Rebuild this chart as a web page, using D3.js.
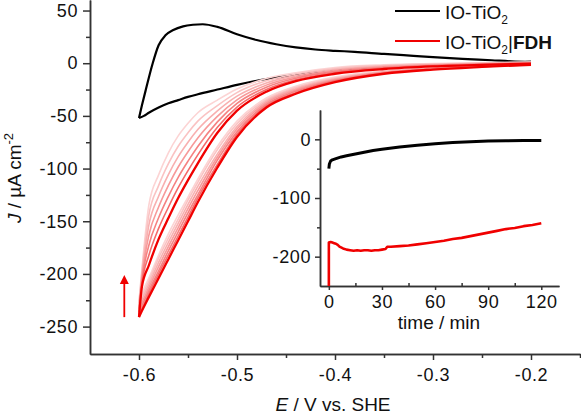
<!DOCTYPE html>
<html><head><meta charset="utf-8">
<script src="https://cdn.jsdelivr.net/npm/d3@7/dist/d3.min.js"></script>
<style>
body{margin:0;background:#fff;}
svg{display:block;font-family:"Liberation Sans",Arial,Helvetica,sans-serif;}
</style></head><body>
<svg id="c" width="581" height="414"></svg>
<script>
// ---------- main CV data ----------
const potentialGrid = [-0.600,-0.597,-0.59,-0.58,-0.57,-0.56,-0.55,-0.54,-0.52,-0.50,-0.47,-0.44,-0.40,-0.35,-0.30,-0.25,-0.20];
// cathodic (forward) sweeps, cycle 1 .. 7
const fdhForward = [
  [-241,-235,-222,-204,-186,-168,-150,-132,-99,-70,-42,-29,-18,-10,-6,-3.5,-1.5],
  [-239,-233,-219,-200,-182,-164,-146,-128,-96,-67.5,-40.5,-28,-17,-9.5,-5.7,-3.3,-1.4],
  [-236,-230,-216,-197,-178,-160,-142,-125,-92,-65,-39,-26.6,-16.4,-9.1,-5.4,-3.1,-1.3],
  [-233,-227,-213,-193,-174,-156,-138,-121,-89,-62.5,-37.5,-25.4,-15.6,-8.6,-5.1,-2.9,-1.2],
  [-231,-224,-210,-189,-170,-152,-134,-117,-86,-60,-36,-24.2,-14.8,-8.2,-4.8,-2.7,-1.1],
  [-228,-221,-207,-185,-166,-148,-130,-113,-82,-57.5,-34.5,-23,-14,-7.8,-4.5,-2.5,-1],
  [-226,-218,-204,-182,-162,-144,-127,-110,-79,-55,-33,-21.8,-13.2,-7.3,-4.2,-2.3,-0.9]
];
// anodic (return) sweeps, cycle 1 .. 7
const fdhReverse = [
  [-241,-212,-192,-167,-147,-128,-111,-95,-66,-45,-27,-17,-10,-5.5,-3,-1.5,-0.5],
  [-239,-209.2,-182.5,-156.8,-136.7,-118.2,-102,-87,-60.8,-41.6,-24.9,-15.7,-9,-4.8,-2.55,-1.17,-0.25],
  [-236,-206.3,-173,-146.7,-126.3,-108.3,-93,-79,-55.7,-38.2,-22.8,-14.3,-8,-4.2,-2.1,-0.83,0],
  [-233,-203.5,-163.5,-136.5,-116,-98.5,-84,-71,-50.5,-34.8,-20.8,-13,-7,-3.5,-1.65,-0.5,0.25],
  [-231,-200.7,-154,-126.3,-105.7,-88.7,-75,-63,-45.3,-31.3,-18.7,-11.7,-6,-2.8,-1.2,-0.17,0.5],
  [-228,-197.8,-144.5,-116.2,-95.3,-78.8,-66,-55,-40.2,-27.9,-16.6,-10.3,-5,-2.2,-0.75,0.17,0.75],
  [-226,-195,-135,-106,-85,-69,-57,-47,-35,-24.5,-14.5,-9,-4,-1.5,-0.3,0.5,1]
];
const cycleColors = ["#f00000","#f46a6a","#f58282","#f79a9a","#f8b0b0","#fac3c3","#fcd4d4"];
const cycleWidths = [2.3,1.6,1.6,1.6,1.6,1.6,1.6];

// IO-TiO2 (black) CV
const tio2AnodicE = [-0.600,-0.597,-0.593,-0.586,-0.580,-0.573,-0.565,-0.555,-0.545,-0.535,-0.52,-0.50,-0.48,-0.46,-0.44,-0.42,-0.40,-0.38,-0.35,-0.32,-0.30,-0.27,-0.24,-0.22,-0.20];
const tio2AnodicJ = [-52,-40,-25,0,17,26.5,31.5,35,36.5,37,34.5,27.5,22,18,15,13,11.8,10.8,8.8,7,5.8,4.2,2.8,1.8,1.2];
const tio2CathodicE = [-0.600,-0.595,-0.59,-0.58,-0.57,-0.56,-0.55,-0.54,-0.52,-0.50,-0.47,-0.44,-0.40,-0.35,-0.30,-0.25,-0.20];
const tio2CathodicJ = [-52,-50,-47,-42,-38,-35,-32,-29.5,-25,-20.5,-15,-11,-7,-4,-2,-0.5,1.2];

// arrow annotation (direction of cycling)
const arrowE = -0.615;
const arrowJ = [-241, -201];

// ticks
const xMajorTicks = [-0.6,-0.5,-0.4,-0.3,-0.2];
const xMinorTicks = [-0.55,-0.45,-0.35,-0.25,-0.15];
const yMajorTicks = [50,0,-50,-100,-150,-200,-250];
const yMinorTicks = [25,-25,-75,-125,-175,-225];

// ---------- inset (chronoamperometry) ----------
const insetBlackT = [0,0.3,1,2,4,7,10,15,20,25,30,40,50,60,70,80,90,100,110,120];
const insetBlackJ = [-50,-42,-37,-35,-33,-30,-28,-25,-22,-19,-17,-13,-10,-7.5,-5.5,-4,-3,-2.5,-2,-2];
const insetRedT = [0,0,1,2,3,4,5,6,8,10,12,14,16,18,20,22,24,26,28,30,32,33,35,40,45,50,55,60,65,70,75,80,85,90,95,100,105,110,115,120];
const insetRedJ = [-250,-176,-175,-176,-177,-178,-180,-183,-186,-188,-189,-190,-189,-190,-189,-189,-190,-189,-189,-188,-187,-183,-183,-182,-181,-179,-177,-175,-173,-170,-168,-165,-162,-159,-156,-153,-151,-148,-146,-143];
const insetXTicks = [0,30,60,90,120];
const insetXMinor = [15,45,75,105];
const insetYTicks = [0,-100,-200];
const insetYMinor = [-50,-150];

const legendLabels = ["IO-TiO", "IO-TiO"];

// ---------- drawing ----------
const svg = d3.select("#c");
const x = d3.scaleLinear().domain([-0.65,-0.15]).range([90,580]);
const y = d3.scaleLinear().domain([-276,60]).range([354,0]);
const axisCol = "#333";
const tickFont = 18;

function styleAxis(g){
  g.select(".domain").attr("stroke",axisCol).attr("stroke-width",1.5);
  g.selectAll(".tick line").attr("stroke",axisCol).attr("stroke-width",1.5);
  g.selectAll(".tick text").attr("fill","#111").attr("font-size",tickFont)
   .attr("font-family","'Liberation Sans',Arial,sans-serif").style("letter-spacing","0.6px");
}

// main axes
const gx = svg.append("g").attr("transform","translate(0,354)")
  .call(d3.axisBottom(x).tickValues(xMajorTicks).tickSize(6).tickSizeOuter(0).tickPadding(8).tickFormat(d3.format(".1f")));
styleAxis(gx);
gx.selectAll(".tick text").text(d=>d3.format(".1f")(d).replace("−","-"));
const gxm = svg.append("g").attr("transform","translate(0,354)")
  .call(d3.axisBottom(x).tickValues(xMinorTicks).tickSize(4).tickSizeOuter(0).tickFormat(""));
styleAxis(gxm);

const gy = svg.append("g").attr("transform","translate(90,0)")
  .call(d3.axisLeft(y).tickValues(yMajorTicks).tickSize(7).tickSizeOuter(0).tickPadding(5));
styleAxis(gy);
gy.selectAll(".tick text").text(d=>String(d));
const gym = svg.append("g").attr("transform","translate(90,0)")
  .call(d3.axisLeft(y).tickValues(yMinorTicks).tickSize(4).tickSizeOuter(0).tickFormat(""));
styleAxis(gym);

// axis titles
const xt = svg.append("text").attr("x",333).attr("y",411).attr("text-anchor","middle")
  .attr("font-size",19).attr("fill","#111");
xt.append("tspan").attr("font-style","italic").text("E");
xt.append("tspan").text(" / V vs. SHE");

const yt = svg.append("text").attr("transform","translate(21,178) rotate(-90)")
  .attr("text-anchor","middle").attr("font-size",19).attr("fill","#111");
yt.append("tspan").attr("font-style","italic").text("J");
yt.append("tspan").text(" / µA cm");
yt.append("tspan").attr("font-size",13).attr("dy",-8).text("-2");

const line = d3.line().x(d=>x(d[0])).y(d=>y(d[1])).curve(d3.curveMonotoneX);

// black CV
svg.append("path").attr("d",line(tio2CathodicE.map((e,i)=>[e,tio2CathodicJ[i]])))
  .attr("fill","none").attr("stroke","#000").attr("stroke-width",2.2);
svg.append("path").attr("d",line(tio2AnodicE.map((e,i)=>[e,tio2AnodicJ[i]])))
  .attr("fill","none").attr("stroke","#000").attr("stroke-width",2.2);

// red CV cycles (lightest first)
for(let k=fdhForward.length-1;k>=0;k--){
  [fdhReverse[k], fdhForward[k]].forEach(arr=>{
    svg.append("path").attr("d",line(potentialGrid.map((e,i)=>[e,arr[i]])))
      .attr("fill","none").attr("stroke",cycleColors[k]).attr("stroke-width",cycleWidths[k])
      .attr("stroke-linejoin","round");
  });
}

// arrow
const ax = x(arrowE), ay0 = y(arrowJ[0]), ay1 = y(arrowJ[1]);
svg.append("line").attr("x1",ax).attr("x2",ax).attr("y1",ay0).attr("y2",ay1+6)
  .attr("stroke","#f00000").attr("stroke-width",1.8);
svg.append("path").attr("d",`M${ax},${ay1} L${ax-4.5},${ay1+9} L${ax+4.5},${ay1+9} Z`).attr("fill","#f00000");

// legend
const legColors = ["#000","#f00000"];
[11,41].forEach((ly,i)=>{
  svg.append("line").attr("x1",395).attr("x2",440).attr("y1",ly).attr("y2",ly)
    .attr("stroke",legColors[i]).attr("stroke-width",2.2);
  const t = svg.append("text").attr("x",445).attr("y",ly+8).attr("font-size",19).attr("fill","#111");
  t.append("tspan").text(legendLabels[i]);
  t.append("tspan").attr("font-size",12).attr("dy",5).text("2");
  if(i===1){
    t.append("tspan").attr("dy",-5).text("|");
    t.append("tspan").attr("font-weight","bold").text("FDH");
  }
});

// inset
const ix = d3.scaleLinear().domain([-5,130]).range([320,559]);
const iy = d3.scaleLinear().domain([-250,50]).range([286,110]);
const igx = svg.append("g").attr("transform","translate(0,286)")
  .call(d3.axisBottom(ix).tickValues(insetXTicks).tickSize(4).tickSizeOuter(0).tickPadding(5));
styleAxis(igx);
const igxm = svg.append("g").attr("transform","translate(0,286)")
  .call(d3.axisTop(ix).tickValues(insetXMinor).tickSize(3).tickSizeOuter(0).tickFormat(""));
styleAxis(igxm);
const igy = svg.append("g").attr("transform","translate(320,0)")
  .call(d3.axisLeft(iy).tickValues(insetYTicks).tickSize(5).tickSizeOuter(0).tickPadding(4));
styleAxis(igy);
igy.selectAll(".tick text").text(d=>String(d));
const igym = svg.append("g").attr("transform","translate(320,0)")
  .call(d3.axisLeft(iy).tickValues(insetYMinor).tickSize(3).tickSizeOuter(0).tickFormat(""));
styleAxis(igym);
svg.append("text").attr("x",439).attr("y",329).attr("text-anchor","middle")
  .attr("font-size",19).attr("fill","#111").text("time / min");

const iline = d3.line().x(d=>ix(d[0])).y(d=>iy(d[1]));
svg.append("path").attr("d",iline(insetBlackT.map((t,i)=>[t,insetBlackJ[i]])))
  .attr("fill","none").attr("stroke","#000").attr("stroke-width",3).attr("stroke-linejoin","round");
svg.append("path").attr("d",iline(insetRedT.map((t,i)=>[t,insetRedJ[i]])))
  .attr("fill","none").attr("stroke","#f00000").attr("stroke-width",2.6).attr("stroke-linejoin","round");
</script>
</body></html>
